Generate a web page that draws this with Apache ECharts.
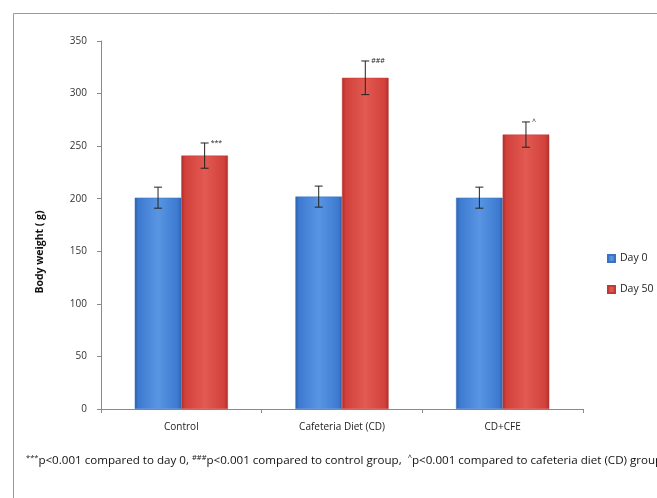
<!DOCTYPE html>
<html>
<head>
<meta charset="utf-8">
<script src="https://cdn.jsdelivr.net/npm/echarts@6/dist/echarts.min.js"></script>
<style>
  html, body { margin: 0; padding: 0; background: #fff; }
  #chart { width: 657px; height: 498px; }
</style>
</head>
<body>
<div id="chart"></div>
<script>
// Body weight per group at day 0 and day 50 (mean ± SEM)
const categories = ['Control', 'Cafeteria Diet (CD)', 'CD+CFE'];
const day0 = [201, 202, 201];
const day0Err = [10, 10, 10];
const day50 = [241, 315, 261];
const day50Err = [12, 16, 12];
const day50Marks = ['***', '###', '^'];
const yTicks = { min: 0, max: 350, interval: 50 };

const FONT = '"Open Sans", "Noto Sans", sans-serif';

function barFill(base, light, dark) {
  return new echarts.graphic.LinearGradient(0, 0, 1, 0, [
    { offset: 0, color: dark },
    { offset: 0.08, color: base },
    { offset: 0.5, color: light },
    { offset: 0.92, color: base },
    { offset: 1, color: dark }
  ]);
}

const chart = echarts.init(document.getElementById('chart'), null, { renderer: 'canvas' });

// error bar drawn for series index sIdx within a category
function errorBarItem(values, errs, sIdx, marks) {
  return function (params, api) {
    const i = params.dataIndex;
    const v = values[i], e = errs[i];
    const top = api.coord([i, v + e]);
    const bot = api.coord([i, v - e]);
    const bandW = api.size([1, 0])[0];
    const barW = bandW * 0.29;
    const cx = top[0] + (sIdx === 0 ? -barW / 2 : barW / 2);
    const cap = 4;
    const children = [
      { type: 'line', shape: { x1: cx, y1: top[1], x2: cx, y2: bot[1] }, style: { stroke: '#222', lineWidth: 1 } },
      { type: 'line', shape: { x1: cx - cap, y1: top[1], x2: cx + cap, y2: top[1] }, style: { stroke: '#222', lineWidth: 1 } },
      { type: 'line', shape: { x1: cx - cap, y1: bot[1], x2: cx + cap, y2: bot[1] }, style: { stroke: '#222', lineWidth: 1 } }
    ];
    if (marks) {
      children.push({
        type: 'text',
        style: {
          x: cx + 6, y: top[1] + 4, text: marks[i],
          fill: '#222', font: '7px ' + FONT, textVerticalAlign: 'bottom'
        }
      });
    }
    return { type: 'group', children: children };
  };
}

chart.setOption({
  animation: false,
  backgroundColor: '#fff',
  textStyle: { fontFamily: FONT },
  grid: { left: 101, right: 74, top: 41, bottom: 89, containLabel: false },
  legend: {
    orient: 'vertical',
    left: 602,
    top: 248,
    itemWidth: 7,
    itemHeight: 7,
    itemGap: 20,
    icon: 'rect',
    textStyle: { fontSize: 10.5, color: '#222', fontFamily: FONT },
    data: ['Day 0', 'Day 50']
  },
  xAxis: {
    type: 'category',
    data: categories,
    axisLine: { lineStyle: { color: '#8a8a8a' } },
    axisTick: { show: true, alignWithLabel: false, length: 4, lineStyle: { color: '#8a8a8a' } },
    axisLabel: { fontSize: 10, color: '#222', margin: 13, fontFamily: FONT }
  },
  yAxis: {
    type: 'value',
    min: yTicks.min, max: yTicks.max, interval: yTicks.interval,
    axisLine: { show: true, lineStyle: { color: '#8a8a8a' } },
    axisTick: { show: true, length: 4, lineStyle: { color: '#8a8a8a' } },
    axisLabel: { fontSize: 10, color: '#333', margin: 14, fontFamily: FONT },
    splitLine: { show: false }
  },
  series: [
    {
      name: 'Day 0', type: 'bar', data: day0,
      barGap: '0%', barCategoryGap: '42%',
      itemStyle: { color: barFill('#3d7ad0', '#5a95e3', '#2e62ad'), borderColor: '#3a72c0', borderWidth: 0.5 }
    },
    {
      name: 'Day 50', type: 'bar', data: day50,
      barGap: '0%', barCategoryGap: '42%',
      itemStyle: { color: barFill('#d2403b', '#e25a52', '#ab2f2b'), borderColor: '#c03a35', borderWidth: 0.5 }
    },
    {
      type: 'custom', name: 'err0', data: day0.map((v, i) => [i, v]),
      renderItem: errorBarItem(day0, day0Err, 0, null), z: 10, silent: true
    },
    {
      type: 'custom', name: 'err50', data: day50.map((v, i) => [i, v]),
      renderItem: errorBarItem(day50, day50Err, 1, day50Marks), z: 10, silent: true
    }
  ],
  graphic: [
    {
      type: 'rect', left: 11, top: 11, silent: true,
      shape: { width: 700, height: 520 },
      style: { fill: 'none', stroke: '#9a9a9a', lineWidth: 1 }, z: -10
    },
    {
      // y-axis title
      type: 'text', x: 40, y: 252, rotation: Math.PI / 2, silent: true,
      style: {
        text: 'Body weight ( g)',
        font: 'bold 10.5px ' + FONT,
        fill: '#111',
        align: 'center',
        verticalAlign: 'middle'
      }
    },
    {
      type: 'text', left: 26, top: 454, silent: true,
      style: {
        text: '{sup|***}p<0.001 compared to day 0, {sup|###}p<0.001 compared to control group,  {sup|^}p<0.001 compared to cafeteria diet (CD) group',
        font: '11.6px ' + FONT,
        fill: '#111',
        rich: {
          sup: { fontSize: 7.5, verticalAlign: 'top', padding: [0, 0, 5, 0], fill: '#111', fontFamily: FONT }
        }
      }
    }
  ]
});
</script>
</body>
</html>
